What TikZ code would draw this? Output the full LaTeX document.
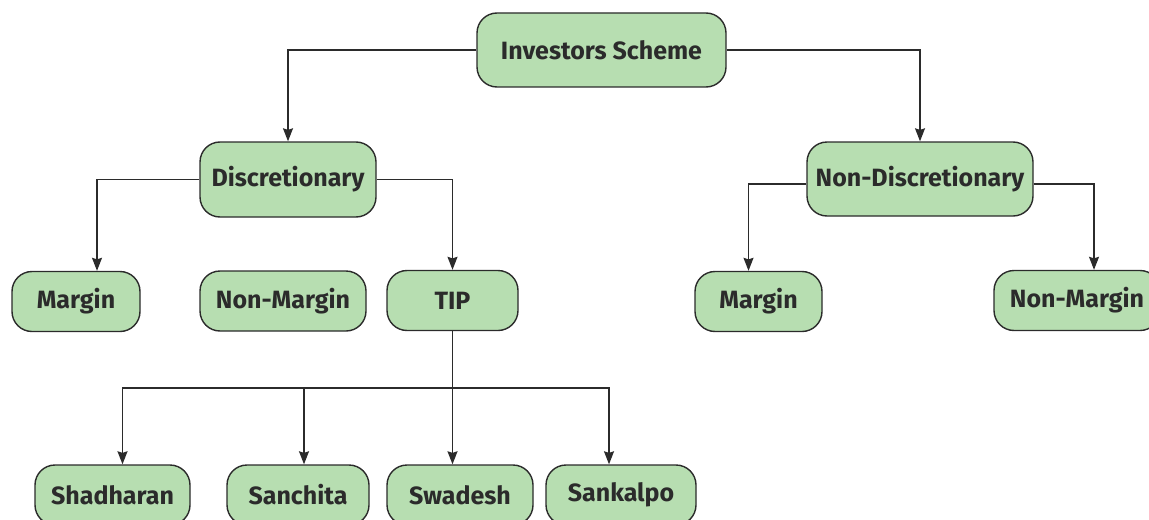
\documentclass[tikz,border=0pt]{standalone}
\usepackage{fontspec}
\setmainfont{Fira Sans}
\usetikzlibrary{arrows.meta}
\definecolor{boxgreen}{HTML}{B7DEB1}
\definecolor{edgegray}{HTML}{2B2B2B}

\begin{document}
\begin{tikzpicture}[
  x=0.5pt, y=-0.5pt,
  schemebox/.style={rectangle, rounded corners=10pt, draw=edgegray, line width=0.7pt, fill=boxgreen, font=\bfseries\fontsize{12.5}{15}\selectfont, text=edgegray, minimum height=30pt, inner sep=2pt},
  link/.style={draw=edgegray, line width=0.7pt},
  >={Stealth[length=6.5pt,width=5pt,inset=0.8pt]},
  ]

\useasboundingbox (0,0) rectangle (1149,519);

\node[schemebox, minimum width=124.5pt, minimum height=37pt] (inv) at (601.5,50) {Investors Scheme};

\node[schemebox, minimum width=88pt, minimum height=37.5pt] (disc) at (288,179.5) {Discretionary};
\node[schemebox, minimum width=113pt, minimum height=37pt] (ndisc) at (920,179) {Non-Discretionary};

\node[schemebox, minimum width=64pt] (margL) at (76,301.5) {Margin};
\node[schemebox, minimum width=83pt] (nmargL) at (283,301) {Non-Margin};
\node[schemebox, minimum width=65.5pt] (tip) at (452.5,300.5) {TIP};
\node[schemebox, minimum width=63.5pt] (margR) at (758.5,301.5) {Margin};
\node[schemebox, minimum width=83pt] (nmargR) at (1077,300.5) {Non-Margin};

\node[schemebox, minimum width=77.5pt] (shad) at (112.5,495) {Shadharan};
\node[schemebox, minimum width=71pt] (sanch) at (298,495) {Sanchita};
\node[schemebox, minimum width=73pt] (swad) at (460,495) {Swadesh};
\node[schemebox, minimum width=75pt] (sank) at (621,495) {Sankalpo};

\coordinate (bus) at (452.5,388);

\draw[link,->] (inv.west) -| (disc.north);
\draw[link,->] (inv.east) -| (ndisc.north);
\draw[link,->] (disc.west) -| ([xshift=10.5pt]margL.north);
\draw[link,->] (disc.east) -| (tip.north);
\draw[link,->] ([yshift=-2.5pt]ndisc.west) -| ([xshift=-5pt]margR.north);
\draw[link,->] ([yshift=-2.5pt]ndisc.east) -| ([xshift=8.5pt]nmargR.north);

\draw[link] (tip.south) -- (bus);
\draw[link,->] (bus) -| ([xshift=5pt]shad.north);
\draw[link,->] (bus) -| ([xshift=3pt]sanch.north);
\draw[link,->] (bus) -- ([xshift=-3.75pt]swad.north);
\draw[link,->] (bus) -| ([xshift=-6pt]sank.north);

\end{tikzpicture}
\end{document}
